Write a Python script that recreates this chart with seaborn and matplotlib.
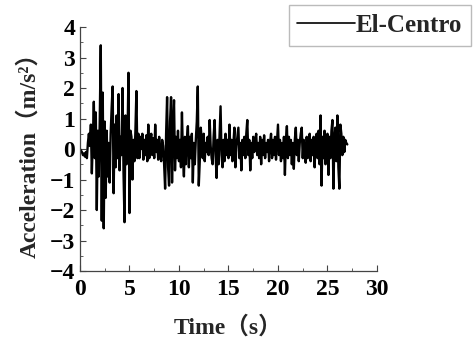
import numpy as np
import pandas as pd
import matplotlib
matplotlib.use("Agg")
import matplotlib.pyplot as plt
import seaborn as sns
from matplotlib.ticker import MultipleLocator

# Acceleration samples (m/s^2), dt = 0.1 s
acc = [
    0.0, -0.05, -0.1, -0.2, -0.15, -0.25, -0.1, -0.3, 0.2, 0.5,
    0.1, 0.8, -0.8, 0.3, 1.55, -0.3, 1.2, -2.0, 0.6, -0.9,
    1.0, 3.4, -2.35, 1.85, -2.6, 0.9, -1.6, 0.6, -0.9, 0.2,
    -1.1, 0.5, 1.35, 2.05, -1.45, 0.8, -0.6, 1.1, -0.3, 1.8,
    -0.7, 0.4, -0.2, 2.0, -0.8, -2.4, 1.1, -0.5, 0.3, 2.5,
    -2.1, 0.6, 0.4, -1.0, 0.3, -0.4, 0.6, 1.9, -0.3, 0.5,
    -0.3, 0.4, 0.0, 0.5, -0.35, 0.3, -0.2, 0.45, -0.4, 0.8,
    -0.3, 0.2, 0.5, -0.2, 0.35, -0.3, 0.8, -0.1, 0.3, -0.35,
    0.4, -0.2, -0.4, 0.3, 0.1, -0.5, -1.3, 0.5, 1.7, -0.6,
    -1.2, 0.9, 1.7, -1.1, 0.8, 1.6, -0.7, 0.4, -0.3, 0.6,
    -0.4, 0.3, -0.6, 1.2, -0.2, -0.9, 0.4, -0.5, 0.3, 0.75,
    -0.6, 0.4, -0.3, 0.5, -1.1, 0.2, -0.5, 0.3, 0.9, 2.05,
    -1.2, -0.4, 0.7, 0.3, -0.3, 0.5, -0.4, 0.2, -0.1, 0.4,
    -0.2, 0.95, 0.1, -0.3, -0.5, 0.4, 0.95, -0.2, -0.95, 0.3,
    -0.5, 0.4, 1.4, -0.2, -0.6, 0.3, -0.4, 0.5, -0.2, 0.3,
    -0.3, 0.8, -0.2, 0.3, -0.4, 0.2, 0.7, -0.6, 0.1, 0.4,
    0.7, -0.3, 0.2, -0.7, 0.3, -0.2, 0.4, -0.3, 0.5, 0.95,
    -0.2, 0.3, -0.7, 0.2, -0.3, 0.4, -0.1, 0.3, 0.5, -0.2,
    0.2, -0.3, 0.4, -0.5, 0.3, -0.2, 0.45, -0.3, 0.2, -0.1,
    0.3, -0.4, 0.2, 0.5, -0.3, 0.3, -0.2, 0.4, -0.35, 0.2,
    0.8, -0.2, 0.3, -0.4, 0.2, -0.3, 0.4, -0.85, 0.3, 0.75,
    -0.3, 0.4, -0.2, 0.3, -0.5, 0.2, -0.65, 0.3, 0.7, -0.2,
    0.3, -0.4, 0.2, 0.5, 0.7, -0.3, 0.3, -0.2, -0.45, 0.4,
    -0.3, 0.2, 0.5, -0.4, 0.3, -0.2, 0.4, -0.6, 0.3, 0.5,
    -0.3, 0.6, -0.5, 1.1, -1.2, 0.4, -0.3, 0.6, -0.5, 0.3,
    0.5, -0.85, 0.4, -0.3, 0.6, 0.95, -1.3, 0.3, 0.7, -0.4,
    1.1, -0.6, -1.3, 0.8, 0.5, -0.2, 0.4, -0.1, 0.3, 0.2,
    0.15,
]
dt = 0.1
time = [round(i * dt, 2) for i in range(len(acc))]
series_name = "El-Centro"
x_ticks = [0, 5, 10, 15, 20, 25, 30]
y_ticks = [-4, -3, -2, -1, 0, 1, 2, 3, 4]

df = pd.DataFrame({"Time": time, "Acceleration": acc})

sns.set_style("ticks")
plt.rcParams["font.family"] = ["Liberation Serif", "Noto Sans CJK SC", "DejaVu Sans"]
plt.rcParams["font.weight"] = "bold"

fig = plt.figure(figsize=(4.76, 3.42), dpi=100)
ax = fig.add_axes([0.168, 0.2076, 0.624, 0.7134])

sns.lineplot(data=df, x="Time", y="Acceleration", ax=ax, color="black",
             linewidth=1.7, label=series_name, legend=False)

ax.set_xlim(0, 30)
ax.set_ylim(-4, 4)
ax.set_xticks(x_ticks)
ax.set_yticks(y_ticks)
ax.xaxis.set_minor_locator(MultipleLocator(2.5))
ax.yaxis.set_minor_locator(MultipleLocator(0.5))
ax.tick_params(which="major", direction="in", length=4, width=0.8,
               labelsize=17, colors="#444444", labelcolor="black")
ax.tick_params(axis="x", which="major", pad=6)
ax.tick_params(which="minor", direction="in", length=2.5, width=0.6, colors="#444444")
for lab in ax.get_xticklabels() + ax.get_yticklabels():
    lab.set_fontweight("bold")

sns.despine(ax=ax)
for s in ["left", "bottom"]:
    ax.spines[s].set_color("#444444")
    ax.spines[s].set_linewidth(0.9)

ax.set_xlabel("Time（s）", fontsize=17, fontweight="bold", labelpad=11)
ax.set_ylabel("Acceleration（m/s²）", fontsize=17, fontweight="bold", labelpad=7)

handles, labels = ax.get_legend_handles_labels()
leg = fig.legend(handles, labels, loc="upper right",
                 bbox_to_anchor=(0.99, 0.985), frameon=True, fancybox=False,
                 prop={"size": 18, "weight": "bold"}, handlelength=2.3,
                 handletextpad=0.05, borderpad=0.35, borderaxespad=0)
for h in leg.get_lines():
    h.set_linewidth(1.2)
leg.get_frame().set_edgecolor("#aaaaaa")
leg.get_frame().set_linewidth(1.0)

fig.savefig("out.png", dpi=100)
